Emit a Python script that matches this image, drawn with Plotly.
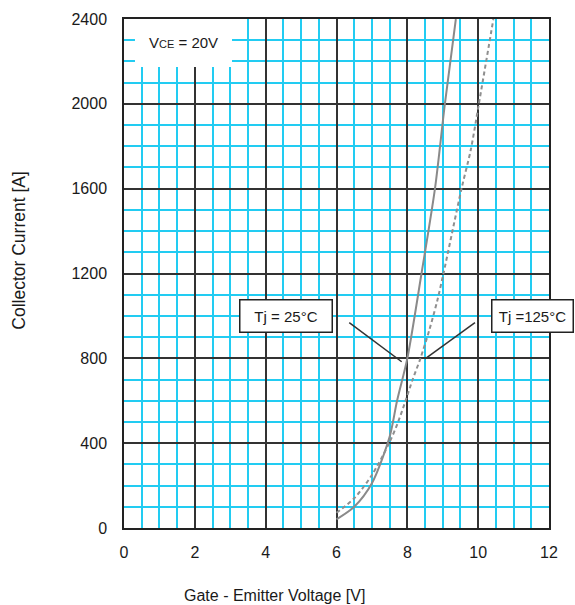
import plotly.graph_objects as go

# --- data ---
vge_25 = [6.0, 6.5, 7.0, 7.5, 7.71, 8.0, 8.4, 8.78, 9.06, 9.37]
ic_25 = [41, 100, 211, 430, 600, 800, 1200, 1600, 2000, 2400]

vge_125 = [6.0, 6.5, 7.0, 7.5, 7.74, 7.95, 8.15, 8.37, 8.62, 8.85, 9.02, 9.53, 9.79, 10.02, 10.43]
ic_125 = [72, 140, 250, 405, 500, 600, 700, 800, 933, 1075, 1200, 1600, 1782, 2000, 2400]

x_ticks = [0, 2, 4, 6, 8, 10, 12]
y_ticks = [0, 400, 800, 1200, 1600, 2000, 2400]

FONT = "Liberation Sans, Arial, sans-serif"
TXT = "#1a1a1a"
CYAN = "#22ccf2"
MAJOR = "#333333"

fig = go.Figure()
fig.add_trace(go.Scatter(x=vge_25, y=ic_25, mode="lines",
                         line=dict(color="#8a8a8a", width=2, shape="spline", smoothing=0.8),
                         showlegend=False, hoverinfo="skip"))
fig.add_trace(go.Scatter(x=vge_125, y=ic_125, mode="lines",
                         line=dict(color="#8f8f8f", width=2, dash="4px,3px", shape="spline", smoothing=0.8),
                         showlegend=False, hoverinfo="skip"))

axis_common = dict(showline=True, mirror=True, linecolor="#222222", linewidth=1.5,
                   ticks="", zeroline=False, showgrid=True, gridcolor=MAJOR, gridwidth=1.5,
                   tickfont=dict(family=FONT, size=16, color=TXT))

fig.update_xaxes(range=[0, 12], tickvals=x_ticks, ticktext=[str(v) for v in x_ticks],
                 minor=dict(dtick=0.5, tick0=0, showgrid=True, gridcolor=CYAN, gridwidth=1.5),
                 ticklabelstandoff=9, **axis_common)
fig.update_yaxes(range=[0, 2400], tickvals=y_ticks, ticktext=[str(v) for v in y_ticks],
                 minor=dict(dtick=100, tick0=0, showgrid=True, gridcolor=CYAN, gridwidth=1.5),
                 ticklabelstandoff=12, **axis_common)

shapes = [
    # white box behind VCE label
    dict(type="rect", xref="x", yref="y", x0=0.31, x1=3.05, y0=2174, y1=2400,
         fillcolor="white", line=dict(width=0), layer="above"),
    # leader lines
    dict(type="line", xref="x", yref="y", x0=6.36, y0=968, x1=7.84, y1=784,
         line=dict(color="#333333", width=1.5)),
    dict(type="line", xref="x", yref="y", x0=9.91, y0=968, x1=8.50, y1=797,
         line=dict(color="#333333", width=1.5)),
]

annotations = [
    dict(xref="x", yref="y", x=1.68, y=2287, showarrow=False, xanchor="center", yanchor="middle",
         text='V<span style="font-size:11px">CE</span> = 20V',
         font=dict(family=FONT, size=15, color=TXT)),
    dict(xref="x", yref="y", x=4.58, y=998, showarrow=False, text="Tj = 25°C",
         xanchor="center", yanchor="middle",
         font=dict(family=FONT, size=15, color=TXT), bgcolor="white",
         bordercolor="#222222", borderwidth=1.5, borderpad=0, width=91, height=31),
    dict(xref="x", yref="y", x=11.52, y=998, showarrow=False, text="Tj =125°C",
         xanchor="center", yanchor="middle",
         font=dict(family=FONT, size=15, color=TXT), bgcolor="white",
         bordercolor="#222222", borderwidth=1.5, borderpad=0, width=80, height=31),
    dict(xref="paper", yref="paper", x=0.355, y=-0.133, showarrow=False,
         xanchor="center", yanchor="middle",
         text="Gate - Emitter Voltage [V]", font=dict(family=FONT, size=16, color=TXT)),
    dict(xref="paper", yref="paper", x=-0.248, y=0.546, showarrow=False, textangle=-90,
         xanchor="center", yanchor="middle",
         text="Collector Current [A]", font=dict(family=FONT, size=17.5, color=TXT)),
]

fig.update_layout(width=575, height=605, margin=dict(l=124, r=26, t=19, b=77),
                  paper_bgcolor="white", plot_bgcolor="white",
                  shapes=shapes, annotations=annotations)

fig.write_html("out.html")
